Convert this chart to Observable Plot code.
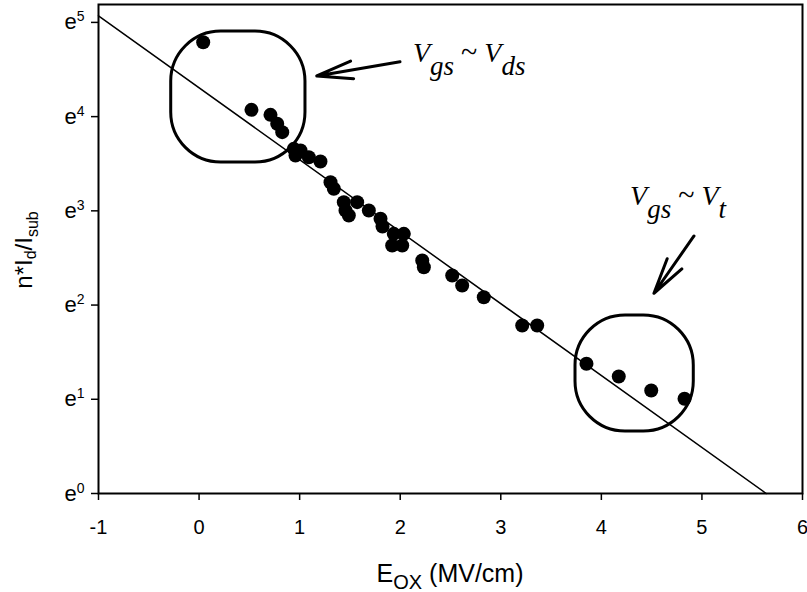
<!DOCTYPE html>
<html><head><meta charset="utf-8">
<script src="https://cdn.jsdelivr.net/npm/d3@7"></script>
<script src="https://cdn.jsdelivr.net/npm/@observablehq/plot@0.6"></script>
<style>body{margin:0;background:#fff} svg{display:block}</style>
</head><body><div id="chart"></div>
<script>
// Measured data: E_ox (MV/cm) and ln(n*Id/Isub)
const eox = [0.041, 0.521, 0.710, 0.777, 0.827, 0.942, 1.009, 0.959, 1.091, 1.207,
             1.307, 1.340, 1.439, 1.572, 1.489, 1.456, 1.688, 1.804, 1.824, 1.936,
             2.036, 1.920, 2.020, 2.219, 2.235, 2.517, 2.616, 2.831, 3.213, 3.362,
             3.852, 4.173, 4.496, 4.827];
const lnRatio = [4.790, 4.072, 4.019, 3.924, 3.835, 3.658, 3.640, 3.587, 3.569, 3.523,
                 3.304, 3.234, 3.092, 3.092, 2.951, 3.004, 3.004, 2.916, 2.834, 2.756,
                 2.756, 2.632, 2.632, 2.473, 2.402, 2.314, 2.208, 2.083, 1.783, 1.783,
                 1.377, 1.242, 1.093, 1.005];
// Fitted line end points
const fitX = [-1, 5.639];
const fitY = [5.07, 0];
// Axis ticks
const xTicks = [-1, 0, 1, 2, 3, 4, 5, 6];
const yTicks = [0, 1, 2, 3, 4, 5];
// Annotation boxes (rounded outlines)
const boxX1 = [-0.277, 3.743];
const boxX2 = [1.058, 4.919];
const boxY1 = [3.513, 0.658];
const boxY2 = [4.903, 1.889];
// Annotation arrows (tail -> tip)
const arrowX1 = [2.003, 4.926];
const arrowY1 = [4.578, 2.728];
const arrowX2 = [1.175, 4.528];
const arrowY2 = [4.426, 2.120];
// Annotation labels
const labelX = [2.132, 4.290];
const labelY = [4.574, 3.057];
const labelSubA = ["gs", "gs"];
const labelSubB = ["ds", "t"];

const points = eox.map((x, i) => ({x, y: lnRatio[i]}));
const fit = fitX.map((x, i) => ({x, y: fitY[i]}));
const boxes = boxX1.map((x1, i) => ({x1, x2: boxX2[i], y1: boxY1[i], y2: boxY2[i]}));
const arrows = arrowX1.map((x1, i) => ({x1, y1: arrowY1[i], x2: arrowX2[i], y2: arrowY2[i]}));
const labels = labelX.map((x, i) => ({x, y: labelY[i], a: labelSubA[i], b: labelSubB[i]}));

const plot = Plot.plot({
  width: 807, height: 592,
  marginLeft: 98, marginRight: 5, marginTop: 4, marginBottom: 99,
  style: {fontFamily: "'Liberation Sans', Arial, sans-serif", background: "white", color: "black"},
  x: {domain: [-1, 6]},
  y: {domain: [0, 5.19]},
  marks: [
    Plot.axisX({ticks: xTicks, tickSize: 7, tickPadding: 19, fontSize: 20, label: null, strokeWidth: 1.5, tickFormat: d => String(d)}),
    Plot.axisY({ticks: yTicks, tickSize: 7, tickPadding: 7, fontSize: 22, label: null, strokeWidth: 1.5, tickFormat: d => "e" + d}),
    Plot.frame({strokeWidth: 2}),
    Plot.line(fit, {x: "x", y: "y", stroke: "black", strokeWidth: 1.5}),
    Plot.rect(boxes, {x1: "x1", x2: "x2", y1: "y1", y2: "y2", fill: "none", stroke: "black", strokeWidth: 3, rx: 50}),
    Plot.dot(points, {x: "x", y: "y", r: 7, fill: "black", stroke: "none"})
  ]
});
document.getElementById("chart").appendChild(plot);

const svg = d3.select(plot.tagName.toLowerCase() === "svg" ? plot : plot.querySelector("svg"));
const sx = plot.scale("x"), sy = plot.scale("y");

// tick label sizes and superscripts
svg.selectAll("text").each(function() {
  const t = d3.select(this);
  const s = t.text();
  const m = /^e(\d)$/.exec(s);
  if (m) {
    t.attr("font-size", 22).style("font-size", "22px");
    t.text(null);
    t.append("tspan").text("e");
    t.append("tspan").attr("dy", -8).style("font-size", "14px").text(m[1]);
  } else if (/^[-−]?\d$/.test(s)) {
    t.attr("font-size", 20).style("font-size", "20px");
  }
});

// arrows with long open heads
const ag = svg.append("g").attr("fill", "none").attr("stroke", "black")
  .attr("stroke-width", 3).attr("stroke-linecap", "round").attr("stroke-linejoin", "round");
arrows.forEach(a => {
  const x1 = sx.apply(a.x1), y1 = sy.apply(a.y1), x2 = sx.apply(a.x2), y2 = sy.apply(a.y2);
  const ang = Math.atan2(y1 - y2, x1 - x2);
  const L = 37, h = 14 * Math.PI / 180;
  const w1 = [x2 + L * Math.cos(ang - h), y2 + L * Math.sin(ang - h)];
  const w2 = [x2 + L * Math.cos(ang + h), y2 + L * Math.sin(ang + h)];
  ag.append("path").attr("d", `M${x1},${y1}L${x2},${y2}M${w1}L${x2},${y2}L${w2}`);
});

// annotation labels
labels.forEach(l => {
  const t = svg.append("text")
    .attr("x", sx.apply(l.x)).attr("y", sy.apply(l.y))
    .attr("text-anchor", "start")
    .attr("font-family", "'Liberation Serif', 'Times New Roman', serif")
    .attr("font-style", "italic").attr("font-size", 28).attr("fill", "black");
  t.append("tspan").text("V");
  t.append("tspan").attr("dy", 13).attr("font-size", 27).text(l.a);
  t.append("tspan").attr("dy", -13).attr("dx", 7).attr("font-style", "normal").attr("font-size", 30).text("~");
  t.append("tspan").attr("dx", 7).text("V");
  t.append("tspan").attr("dy", 13).attr("font-size", 27).text(l.b);
});

// x axis title
const xt = svg.append("text").attr("x", 450).attr("y", 582).attr("text-anchor", "middle")
  .attr("font-size", 25).attr("fill", "black");
xt.append("tspan").text("E");
xt.append("tspan").attr("dy", 7).attr("font-size", 20).text("OX");
xt.append("tspan").attr("dy", -7).text(" (MV/cm)");

// y axis title
const yt = svg.append("text").attr("transform", "translate(31.7,250) rotate(-90)")
  .attr("text-anchor", "middle").attr("font-size", 24).attr("fill", "black");
yt.append("tspan").text("n*I");
yt.append("tspan").attr("dy", 4).attr("font-size", 16).text("d");
yt.append("tspan").attr("dy", -4).text("/I");
yt.append("tspan").attr("dy", 6).attr("font-size", 16).text("sub");
</script>
</body></html>
